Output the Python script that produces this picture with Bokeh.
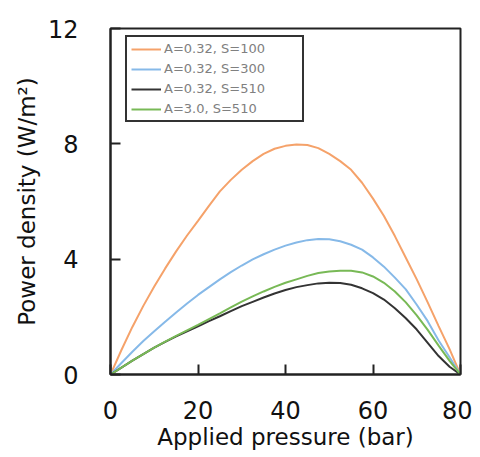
from bokeh.plotting import figure
from bokeh.models import Legend, LegendItem, FixedTicker, Range1d
from bokeh.embed import file_html
from bokeh.resources import INLINE

# ---- data ----
pressure = [0, 2.5, 5, 7.5, 10, 12.5, 15, 17.5, 20, 22.5, 25, 27.5, 30, 32.5, 35, 37.5, 40,
            42.5, 45, 47.5, 50, 52.5, 55, 57.5, 60, 62.5, 65, 67.5, 70, 72.5, 75, 77.5, 80]
pd_a032_s100 = [0, 0.85, 1.65, 2.38, 3.05, 3.68, 4.27, 4.82, 5.33, 5.85, 6.35, 6.75, 7.1, 7.4, 7.65, 7.83, 7.93,
                7.98, 7.96, 7.85, 7.65, 7.4, 7.1, 6.65, 6.1, 5.5, 4.8, 4.05, 3.3, 2.5, 1.68, 0.88, 0]
pd_a032_s300 = [0, 0.4, 0.79, 1.16, 1.5, 1.83, 2.15, 2.46, 2.76, 3.03, 3.3, 3.55, 3.78, 3.99, 4.17, 4.33, 4.47,
                4.58, 4.66, 4.7, 4.69, 4.62, 4.5, 4.33, 4.06, 3.74, 3.36, 2.95, 2.42, 1.85, 1.18, 0.6, 0]
pd_a032_s510 = [0, 0.24, 0.48, 0.71, 0.93, 1.13, 1.32, 1.5, 1.67, 1.85, 2.02, 2.2, 2.37, 2.52, 2.67, 2.81, 2.93,
                3.03, 3.1, 3.16, 3.18, 3.17, 3.11, 2.99, 2.82, 2.6, 2.3, 1.95, 1.56, 1.1, 0.64, 0.27, 0]
pd_a30_s510 = [0, 0.24, 0.48, 0.71, 0.93, 1.14, 1.34, 1.53, 1.72, 1.92, 2.12, 2.33, 2.53, 2.71, 2.88, 3.04, 3.18,
               3.3, 3.42, 3.52, 3.57, 3.6, 3.6, 3.54, 3.4, 3.18, 2.88, 2.5, 2.05, 1.55, 1.0, 0.47, 0]

series_names = ["A=0.32, S=100", "A=0.32, S=300", "A=0.32, S=510", "A=3.0, S=510"]
series_values = [pd_a032_s100, pd_a032_s300, pd_a032_s510, pd_a30_s510]
series_colors = ["#f5a26a", "#86b9e8", "#333333", "#78b956"]

x_ticks = [0, 20, 40, 60, 80]
y_ticks = [0, 4, 8, 12]

FONT = "DejaVu Sans"

p = figure(width=472, height=457, output_backend="svg", toolbar_location=None,
           x_range=Range1d(0, 80), y_range=Range1d(0, 12),
           min_border_left=110, min_border_right=12, min_border_top=28, min_border_bottom=83)

p.xgrid.visible = False
p.ygrid.visible = False
p.outline_line_color = "#222222"
p.outline_line_width = 2
p.outline_line_alpha = 1.0

renderers = []
for vals, col in zip(series_values, series_colors):
    r = p.line(pressure, vals, line_color=col, line_width=2)
    renderers.append(r)

for ax in (p.xaxis[0], p.yaxis[0]):
    ax.axis_line_color = "#222222"
    ax.axis_line_width = 2
    ax.major_tick_in = 10
    ax.major_tick_out = 0
    ax.major_tick_line_color = "#222222"
    ax.major_tick_line_width = 2
    ax.minor_tick_line_color = None
    ax.major_label_text_font = FONT
    ax.major_label_text_font_size = "24px"
    ax.major_label_text_color = "#111111"
    ax.axis_label_text_font = FONT
    ax.axis_label_text_font_size = "23px"
    ax.axis_label_text_font_style = "normal"
    ax.axis_label_text_color = "#111111"

p.xaxis[0].ticker = FixedTicker(ticks=x_ticks)
p.yaxis[0].ticker = FixedTicker(ticks=y_ticks)
p.xaxis[0].axis_label = "Applied pressure (bar)"
p.yaxis[0].axis_label = "Power density (W/m²)"
p.xaxis[0].major_label_standoff = 26
p.xaxis[0].axis_label_standoff = 2
p.yaxis[0].major_label_standoff = 32
p.yaxis[0].axis_label_standoff = 5

legend = Legend(items=[LegendItem(label=n, renderers=[r]) for n, r in zip(series_names, renderers)],
                location=(15, 252), orientation="vertical")
legend.glyph_width = 30
legend.glyph_height = 12
legend.spacing = 5
legend.padding = 4
legend.margin = 0
legend.label_standoff = 3
legend.label_width = 134
legend.label_text_font = FONT
legend.label_text_font_size = "13px"
legend.label_text_color = "#808080"
legend.border_line_color = "#333333"
legend.border_line_width = 2
legend.border_line_alpha = 1.0
legend.background_fill_color = "white"
legend.background_fill_alpha = 1.0
p.add_layout(legend, "center")

open("out.html", "w").write(file_html(p, INLINE))
